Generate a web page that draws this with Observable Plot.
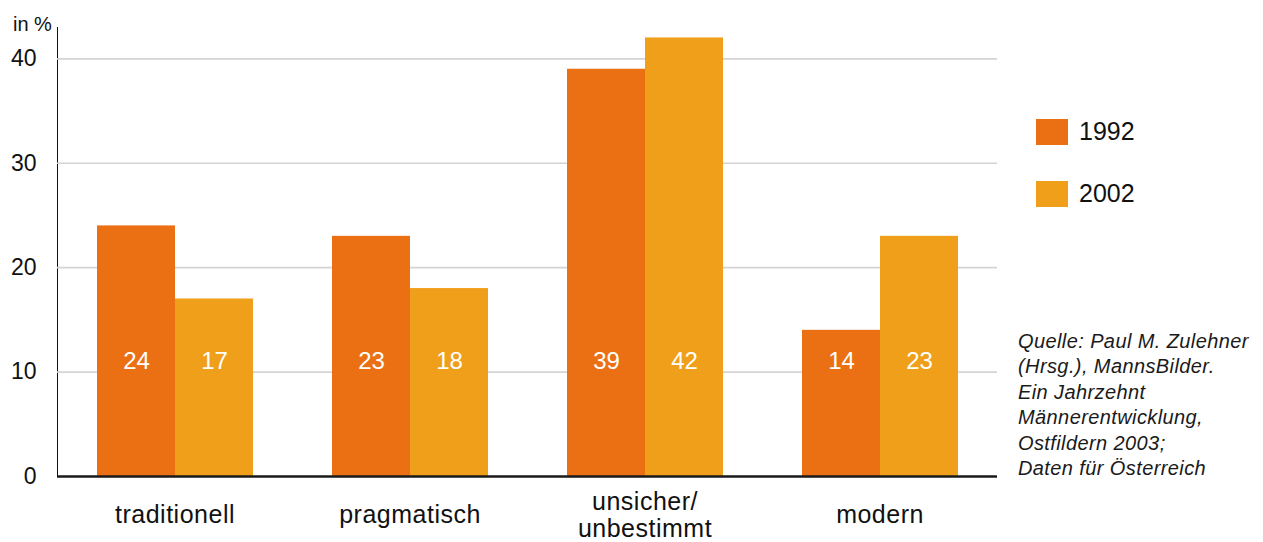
<!DOCTYPE html>
<html><head><meta charset="utf-8">
<script src="https://cdn.jsdelivr.net/npm/d3@7"></script>
<script src="https://cdn.jsdelivr.net/npm/@observablehq/plot@0.6"></script>
<style>
body{margin:0;background:#fff;font-family:"Liberation Sans",Arial,sans-serif;color:#111;}
#wrap{position:relative;width:1263px;height:542px;overflow:hidden;}
#unit{position:absolute;left:13px;top:13px;font-size:20px;color:#111;}
.leg{position:absolute;left:1036px;display:flex;align-items:center;font-size:25px;color:#111;}
.leg span.sw{display:inline-block;width:32px;height:26px;margin-right:11px;}
#caption{position:absolute;left:1018px;top:329px;font-size:20px;font-style:italic;line-height:25.4px;letter-spacing:0.4px;color:#1a1a1a;white-space:pre;}
svg [aria-label^="fx-axis"] text{font-size:25px;letter-spacing:0.5px;fill:#111;}
svg [aria-label^="y-axis"] text{font-size:23px;fill:#111;}
</style></head><body><div id="wrap"></div>
<script>
const categories = ["traditionell", "pragmatisch", "unsicher/\nunbestimmt", "modern"];
const years = ["1992", "2002"];
const values1992 = [24, 23, 39, 14];
const values2002 = [17, 18, 42, 23];
const yTicks = [0, 10, 20, 30, 40];
const colors = ["#EB7013", "#F09F1B"];
const unitLabel = "in %";
const captionLines = ["Quelle: Paul M. Zulehner", "(Hrsg.), MannsBilder.", "Ein Jahrzehnt", "Männerentwicklung,", "Ostfildern 2003;", "Daten für Österreich"];

const data = categories.flatMap((c, i) => [
  {cat: c, year: years[0], value: values1992[i]},
  {cat: c, year: years[1], value: values2002[i]}
]);

const hasAxisMarks = typeof Plot.axisFx === "function";

const marks = [
  Plot.ruleY(yTicks.filter(d => d > 0), {stroke: "#d4d4d4", strokeWidth: 1.6}),
  Plot.barY(data, {fx: "cat", x: "year", y: "value", fill: "year"}),
  Plot.text(data, {fx: "cat", x: "year", y: () => 11, text: "value", fill: "white", fontSize: 24}),
  Plot.ruleY([0], {stroke: "#1a1a1a", strokeWidth: 2.5})
];
if (hasAxisMarks) {
  marks.push(Plot.axisFx({anchor: "bottom", tickSize: 0, tickPadding: 38, lineAnchor: "middle", lineHeight: 1.08, fontSize: 25, label: null}));
}

const chart = Plot.plot({
  width: 1263, height: 542,
  marginLeft: 56, marginRight: 266, marginTop: 27, marginBottom: 66,
  style: {fontFamily: "Liberation Sans, Arial, sans-serif", background: "white", color: "#111"},
  fx: hasAxisMarks ? {domain: categories, padding: 0, label: null, axis: null}
                   : {domain: categories, padding: 0, label: null, tickSize: 0, tickPadding: 29},
  x: {domain: years, paddingInner: 0, paddingOuter: 0.49, axis: null},
  y: {domain: [0, 43], ticks: yTicks, tickFormat: "d", tickSize: 0, tickPadding: 21, label: null, line: true},
  color: {domain: years, range: colors},
  marks
});
const wrap = document.getElementById("wrap");
wrap.appendChild(chart);

d3.select(chart).selectAll('[aria-label^="y-axis line"], [aria-label="y-axis"] path').attr("stroke", "#1a1a1a").attr("stroke-width", 2.5);

const u = document.createElement("div"); u.id = "unit"; u.textContent = unitLabel; wrap.appendChild(u);
years.forEach((y, i) => {
  const d = document.createElement("div"); d.className = "leg";
  d.style.top = (117 + i * 62) + "px";
  d.innerHTML = `<span class="sw" style="background:${colors[i]}"></span><span>${y}</span>`;
  wrap.appendChild(d);
});
const cap = document.createElement("div"); cap.id = "caption"; cap.textContent = captionLines.join("\n"); wrap.appendChild(cap);
</script>
</body></html>
